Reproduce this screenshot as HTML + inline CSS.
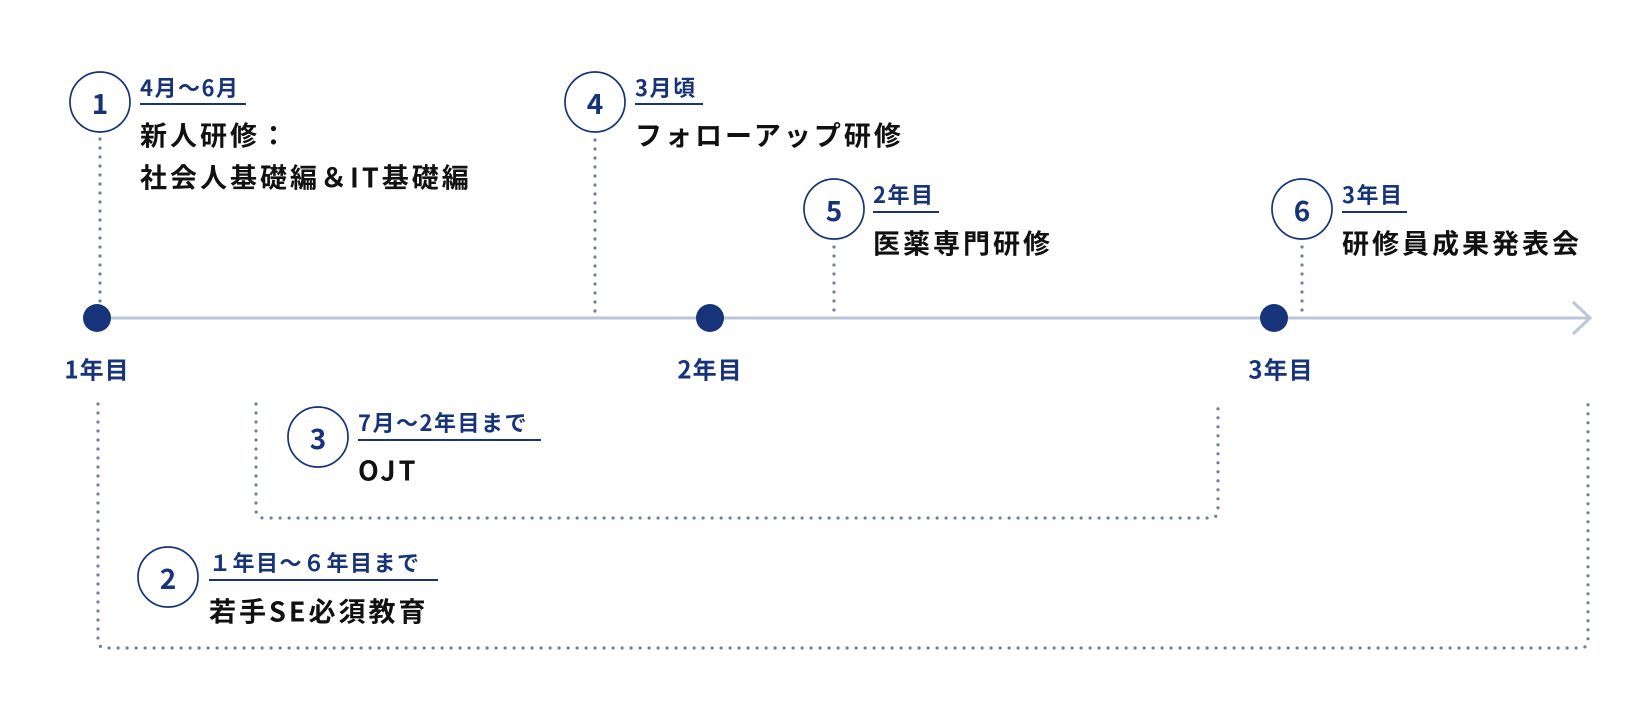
<!DOCTYPE html>
<html><head><meta charset="utf-8"><style>
html,body{margin:0;padding:0;background:#fff;}
svg{display:block;}
text{font-family:"Noto Sans CJK JP","Liberation Sans",sans-serif;font-weight:bold;}
.n{fill:#17347a;font-size:28px;text-anchor:middle;dominant-baseline:central;}
.s{fill:#17347a;font-size:22px;letter-spacing:1.5px;dominant-baseline:central;}
.b{fill:#111;font-size:27px;letter-spacing:3px;dominant-baseline:central;}
.y{fill:#17347a;font-size:24px;letter-spacing:1px;text-anchor:middle;dominant-baseline:central;}
.d{stroke:#6e7fa3;stroke-width:3.2;stroke-dasharray:0 9;stroke-linecap:round;fill:none;}
.c{fill:#fff;stroke:#17347a;stroke-width:1.7;}
.u{stroke:#17347a;stroke-width:2;}
</style></head><body>
<svg width="1650" height="720" viewBox="0 0 1650 720">
<line x1="97" y1="318" x2="1590" y2="318" stroke="#bcc6d9" stroke-width="3"/>
<polyline points="1573,302 1590,318 1573,334" fill="none" stroke="#bcc6d9" stroke-width="3"/>
<line class="d" x1="100" y1="139" x2="100" y2="306"/>
<line class="d" x1="595" y1="140" x2="595" y2="315"/>
<line class="d" x1="834" y1="247" x2="834" y2="318"/>
<line class="d" x1="1302" y1="247" x2="1302" y2="318"/>
<path class="d" d="M98 404 V640 Q98 648 106 648 H1580 Q1588 648 1588 640 V404"/>
<path class="d" d="M256 404 V510 Q256 518 264 518 H1210 Q1218 518 1218 510 V404"/>
<circle cx="97" cy="318" r="14" fill="#17347a"/>
<circle cx="710" cy="318" r="14" fill="#17347a"/>
<circle cx="1274" cy="318" r="14" fill="#17347a"/>
<text class="y" x="97" y="368">1年目</text>
<text class="y" x="710" y="368">2年目</text>
<text class="y" x="1281" y="368">3年目</text>
<circle class="c" cx="100" cy="102" r="30"/><text class="n" x="100" y="103">1</text>
<text class="s" x="140" y="87">4月〜6月</text><line class="u" x1="140" y1="104" x2="246" y2="104"/>
<text class="b" x="140" y="134">新人研修：</text>
<text class="b" x="140" y="176">社会人基礎編＆IT基礎編</text>
<circle class="c" cx="595" cy="102" r="30"/><text class="n" x="595" y="103">4</text>
<text class="s" x="635" y="87">3月頃</text><line class="u" x1="635" y1="104" x2="703" y2="104"/>
<text class="b" x="635" y="134">フォローアップ研修</text>
<circle class="c" cx="834" cy="209" r="30"/><text class="n" x="834" y="210">5</text>
<text class="s" x="873" y="194">2年目</text><line class="u" x1="873" y1="212" x2="939" y2="212"/>
<text class="b" x="873" y="242">医薬専門研修</text>
<circle class="c" cx="1302" cy="209" r="30"/><text class="n" x="1302" y="210">6</text>
<text class="s" x="1342" y="194">3年目</text><line class="u" x1="1342" y1="212" x2="1407" y2="212"/>
<text class="b" x="1342" y="242">研修員成果発表会</text>
<circle class="c" cx="318" cy="437" r="30"/><text class="n" x="318" y="438">3</text>
<text class="s" x="358" y="422">7月〜2年目まで</text><line class="u" x1="358" y1="440" x2="541" y2="440"/>
<text class="b" x="358" y="469">OJT</text>
<circle class="c" cx="168" cy="577" r="30"/><text class="n" x="168" y="578">2</text>
<text class="s" x="209" y="562">１年目〜６年目まで</text><line class="u" x1="209" y1="580" x2="438" y2="580"/>
<text class="b" x="209" y="610">若手SE必須教育</text>
</svg>
</body></html>
